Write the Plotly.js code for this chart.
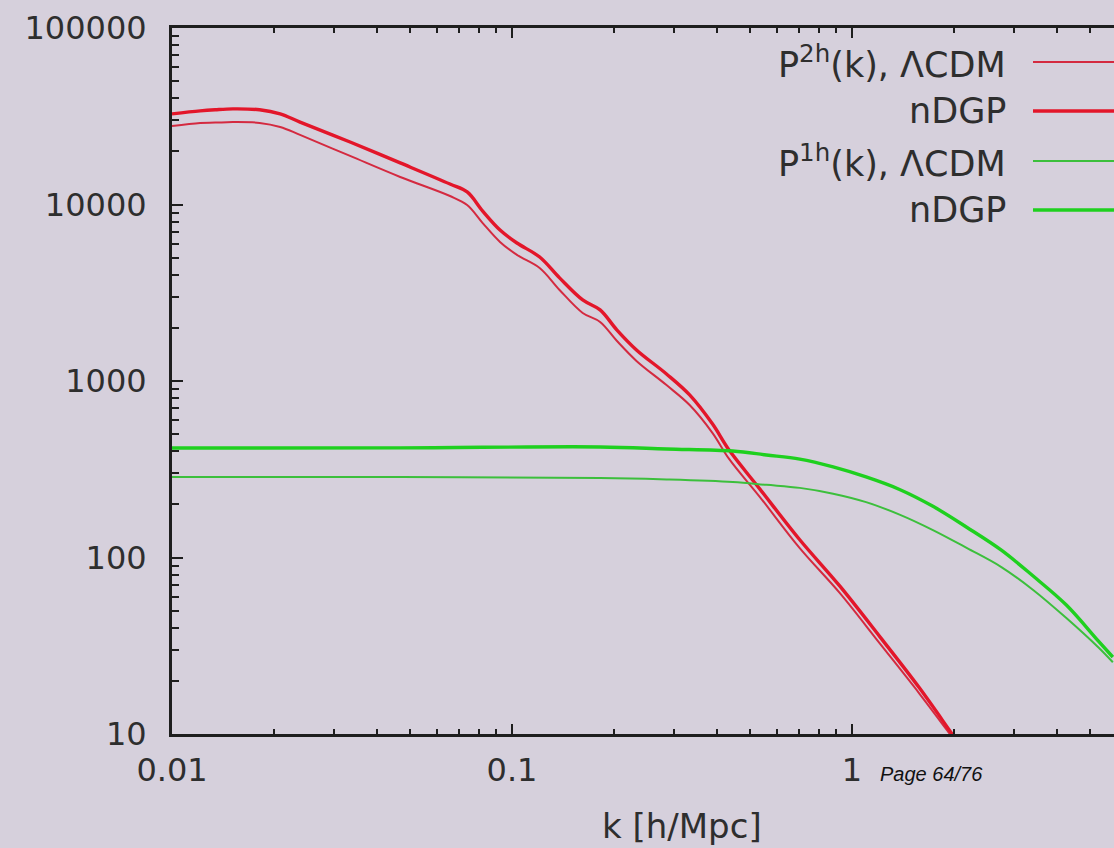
<!DOCTYPE html>
<html>
<head>
<meta charset="utf-8">
<script src="https://cdn.plot.ly/plotly-3.0.1.min.js"></script>
<style>
html,body{margin:0;padding:0;background:#d6d0dc;overflow:hidden;}
#chart{width:1114px;height:848px;}
</style>
</head>
<body>
<div id="chart"></div>
<script>
// ---- data ----
const k2hNDGP   = [0.0100,0.0121,0.0134,0.0151,0.0181,0.0208,0.0238,0.0334,0.0469,0.0657,0.0738,0.0820,0.0922,0.1034,0.1206,0.1380,0.1614,0.1816,0.2033,0.2323,0.2847,0.333,0.389,0.435,0.536,0.702,0.920,1.21,1.58,1.97,2.05];
const p2hNDGP   = [32600,33900,34400,34800,34400,32600,29300,22600,17200,13060,11780,9180,7170,6050,5040,3840,2880,2530,1950,1500,1096,834,570,406,244,126,69,35.4,18.2,10.0,9.0];
const k2hLCDM   = [0.0100,0.0121,0.0134,0.0151,0.0181,0.0208,0.0238,0.0334,0.0469,0.0657,0.0738,0.0820,0.0922,0.1034,0.1206,0.1380,0.1614,0.1816,0.2033,0.2323,0.2847,0.333,0.389,0.435,0.536,0.702,0.920,1.21,1.58,1.94,2.02];
const p2hLCDM   = [27850,28990,29100,29300,29000,27500,24800,18840,14320,11170,9930,7850,6140,5180,4365,3280,2430,2160,1690,1300,948,731,507,362,220,113,63,32.4,16.9,10.0,9.0];

const k1h       = [0.0100,0.0469,0.1816,0.285,0.446,0.56,0.702,0.88,1.10,1.38,1.73,2.18,2.75,3.41,4.27,5.30,5.85];
const p1hNDGP   = [417,418,423,412,401,381,361,326,286,243,195,148,110,78.5,53.8,33.7,27.3];
const p1hLCDM   = [286,286,282,277,268,258,248,230,206,175,143,113,88.3,65.5,45.4,31.0,25.5];

const seriesNames = ["P<sup>2h</sup>(k), ΛCDM", "nDGP", "P<sup>1h</sup>(k), ΛCDM", "nDGP"];
const xTickVals = [0.01, 0.1, 1];
const xTickText = ["0.01", "0.1", "1"];
const yTickVals = [10, 100, 1000, 10000, 100000];
const yTickText = ["10", "100", "1000", "10000", "100000"];
const xAxisTitle = "k [h/Mpc]";
const pageLabel = "Page 64/76";

// ---- styles ----
const styles = [
  {color:'#d42a40', width:2.0},
  {color:'#e3162a', width:3.4},
  {color:'#3cbf3c', width:2.0},
  {color:'#1fd01f', width:3.4}
];

function minorVals(lo, hi){
  const v=[];
  for(let e=lo;e<hi;e++){ for(let d=2; d<=9; d++){ v.push(d*Math.pow(10,e)); } }
  return v;
}

const xs=[k2hLCDM,k2hNDGP,k1h,k1h];
const ys=[p2hLCDM,p2hNDGP,p1hLCDM,p1hNDGP];
const traces = xs.map((x,i)=>({
  x:x, y:ys[i], type:'scatter', mode:'lines', name:seriesNames[i],
  line:{color:styles[i].color, width:styles[i].width, shape:'spline', smoothing:1.0},
  showlegend:false, hoverinfo:'skip'
}));

const L=172, R=1114, T=28, B=734;
const W=1114, H=848;
const xmaxLog = -2 + (R-L)/340;

const font = {family:'"DejaVu Sans", Arial, sans-serif', size:32, color:'#2e2e2e'};
const legendFont = {family:'"DejaVu Sans", Arial, sans-serif', size:35, color:'#2e2e2e'};

const annotations = [];
const shapes = [];
const rowsPx=[62,111,161,210];
rowsPx.forEach((py,i)=>{
  const yp=(B-py)/(B-T);
  annotations.push({xref:'paper', yref:'paper', x:(1008-L)/(R-L), y:yp, xanchor:'right', yanchor:'middle',
    text:seriesNames[i], showarrow:false, font:legendFont});
  shapes.push({type:'line', xref:'paper', yref:'paper', x0:(1033-L)/(R-L), x1:1.0, y0:yp, y1:yp,
    line:{color:styles[i].color, width:styles[i].width}});
});
annotations.push({xref:'x', yref:'paper', x:-0.5, y:(B-826)/(B-T), xanchor:'center', yanchor:'middle',
  text:xAxisTitle, showarrow:false, font:{family:font.family, size:34, color:font.color}});
annotations.push({xref:'paper', yref:'paper', x:(878-L)/(R-L), y:(B-774)/(B-T), xanchor:'left', yanchor:'middle',
  text:'<i>'+pageLabel+'</i>', showarrow:false, font:{family:'"Liberation Sans", Arial, sans-serif', size:20, color:'#111'}});

const layout = {
  width:W, height:H,
  margin:{l:L, r:W-R, t:T, b:H-B, pad:0},
  paper_bgcolor:'#d6d0dc', plot_bgcolor:'#d6d0dc',
  showlegend:false,
  font:font,
  xaxis:{type:'log', range:[-2, xmaxLog], showgrid:false, zeroline:false,
    showline:true, linecolor:'#1e1e1e', linewidth:3, mirror:'ticks',
    ticks:'inside', ticklen:10, tickwidth:2, tickcolor:'#1e1e1e',
    tickmode:'array', tickvals:xTickVals, ticktext:xTickText,
    ticklabelstandoff:6, tickfont:font,
    minor:{tickmode:'array', tickvals:minorVals(-2,1), ticks:'inside', ticklen:5, tickwidth:2, tickcolor:'#1e1e1e', showgrid:false}
  },
  yaxis:{type:'log', range:[1,5], showgrid:false, zeroline:false,
    showline:true, linecolor:'#1e1e1e', linewidth:3, mirror:false,
    ticks:'inside', ticklen:11, tickwidth:2, tickcolor:'#1e1e1e',
    tickmode:'array', tickvals:yTickVals, ticktext:yTickText,
    ticklabelstandoff:16, tickfont:font,
    minor:{tickmode:'array', tickvals:minorVals(1,5), ticks:'inside', ticklen:7, tickwidth:2, tickcolor:'#1e1e1e', showgrid:false}
  },
  annotations:annotations,
  shapes:shapes
};

Plotly.newPlot('chart', traces, layout, {displayModeBar:false, staticPlot:true});
</script>
</body>
</html>
